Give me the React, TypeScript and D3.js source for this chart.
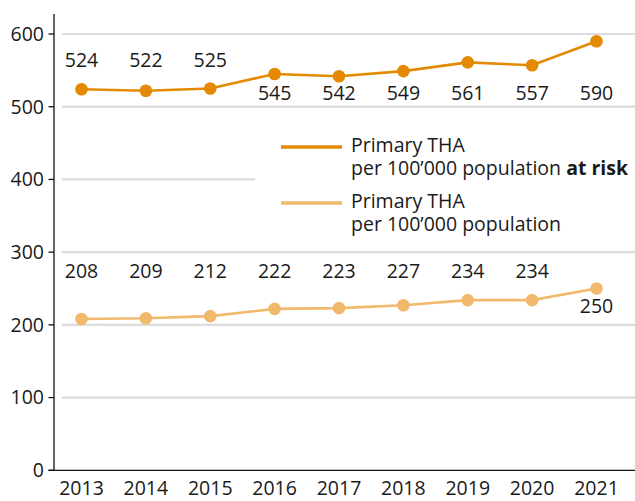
import * as d3 from 'd3';

const years = ['2013', '2014', '2015', '2016', '2017', '2018', '2019', '2020', '2021'];
const atRisk = [524, 522, 525, 545, 542, 549, 561, 557, 590];
const perPopulation = [208, 209, 212, 222, 223, 227, 234, 234, 250];
const yTicks = [0, 100, 200, 300, 400, 500, 600];

// which labels sit above their point
const atRiskAbove = [true, true, true, false, false, false, false, false, false];
const perPopAbove = [true, true, true, true, true, true, true, true, false];

const DARK = '#E38A00';
const LIGHT = '#F0B96B';
const FONT = "'Open Sans', sans-serif";
const FS = 19.5;

export default function App() {
  const width = 635;
  const height = 501;

  const x = d3.scalePoint<string>().domain(years).range([81.5, 596.5]);
  const y = d3.scaleLinear().domain([0, 600]).range([470.3, 34]);

  const line = d3.line<number>()
    .x((_, i) => x(years[i])!)
    .y(d => y(d));

  const series = [
    { values: atRisk, color: DARK, above: atRiskAbove, rowAbove: 67, rowBelow: 100 },
    { values: perPopulation, color: LIGHT, above: perPopAbove, rowAbove: 278, rowBelow: 313 },
  ];

  return (
    <svg width={width} height={height} style={{ position: 'absolute', left: 0, top: 0, fontFamily: FONT }}>
      <rect width={width} height={height} fill="#fff" />

      {/* gridlines */}
      {yTicks.filter(t => t > 0).map(t => (
        <line key={t} x1={62} x2={width} y1={y(t)} y2={y(t)} stroke="#dcdcdc" strokeWidth={2.2} />
      ))}

      {/* legend box hides part of the grid */}
      <rect x={255} y={128} width={380} height={112} fill="#fff" />

      {/* y axis */}
      <line x1={54} x2={54} y1={14} y2={470.3} stroke="#111" strokeWidth={1.3} />
      {yTicks.map(t => (
        <g key={t} transform={`translate(0,${y(t)})`}>
          <line x1={48.5} x2={54} stroke="#111" strokeWidth={1.3} />
          <text x={44} dy="0.35em" textAnchor="end" fontSize={FS} fill="#1a1a1a">{t}</text>
        </g>
      ))}

      {/* x axis */}
      <line x1={48.5} x2={width} y1={470.3} y2={470.3} stroke="#111" strokeWidth={1.3} />
      {years.map(yr => (
        <text key={yr} x={x(yr)} y={495} textAnchor="middle" fontSize={FS} fill="#1a1a1a">{yr}</text>
      ))}

      {/* series */}
      {series.map((s, si) => (
        <g key={si}>
          <path d={line(s.values) ?? ''} fill="none" stroke={s.color} strokeWidth={2.6} />
          {s.values.map((v, i) => (
            <circle key={i} cx={x(years[i])} cy={y(v)} r={6.3} fill={s.color} />
          ))}
          {s.values.map((v, i) => (
            <text key={'l' + i} x={x(years[i])} y={s.above[i] ? s.rowAbove : s.rowBelow}
              textAnchor="middle" fontSize={FS} fill="#1a1a1a">{v}</text>
          ))}
        </g>
      ))}

      {/* legend */}
      <line x1={281} x2={342} y1={147} y2={147} stroke={DARK} strokeWidth={3.3} />
      <text x={351} y={152} fontSize={FS} fill="#1a1a1a">Primary THA</text>
      <text x={351} y={175} fontSize={FS} fill="#1a1a1a">
        per 100’000 population <tspan fontWeight="bold">at risk</tspan>
      </text>
      <line x1={281} x2={342} y1={203} y2={203} stroke={LIGHT} strokeWidth={3.3} />
      <text x={351} y={208} fontSize={FS} fill="#1a1a1a">Primary THA</text>
      <text x={351} y={231} fontSize={FS} fill="#1a1a1a">per 100’000 population</text>
    </svg>
  );
}
